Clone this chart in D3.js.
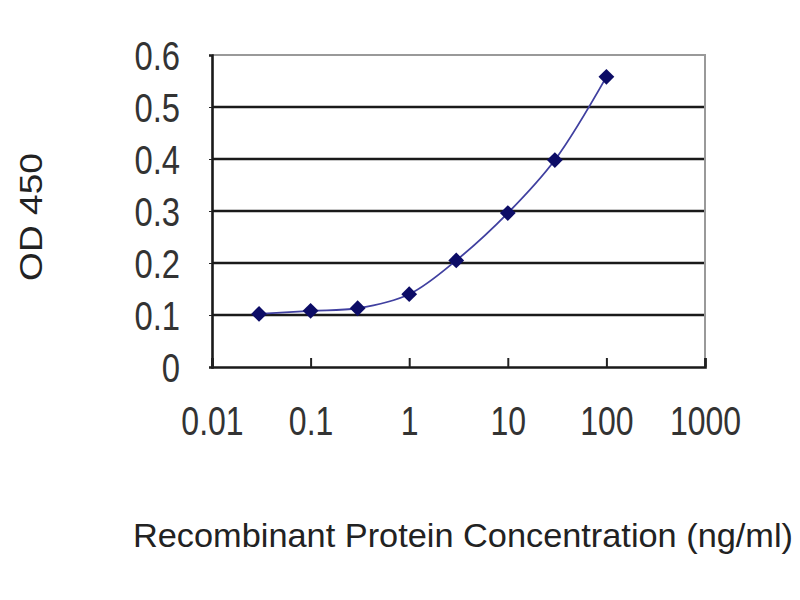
<!DOCTYPE html>
<html>
<head>
    <meta charset="utf-8">
    <title>OD 450</title>
    <style>
        body { margin: 0; background: #fff; }
        .tick text, .title { font-family: "Liberation Sans", Arial, sans-serif; }
        .title { fill: #222; }
    </style>
</head>
<body>
<script src="https://cdn.jsdelivr.net/npm/d3@7"></script>
<script>
    // concentrations (ng/ml) and OD readings
    var conc = [0.03, 0.1, 0.3, 1, 3, 10, 30, 100];
    var od = [0.102, 0.108, 0.113, 0.14, 0.205, 0.296, 0.398, 0.558];
    var xTicks = [0.01, 0.1, 1, 10, 100, 1000];
    var yTicks = [0, 0.1, 0.2, 0.3, 0.4, 0.5, 0.6];

    var margin = {top: 55, right: 95, bottom: 233, left: 212},
        width = 800 - margin.left - margin.right,
        height = 600 - margin.top - margin.bottom;

    var svg = d3.select("body").append("svg")
        .attr("width", 800)
        .attr("height", 600);

    var g = svg.append("g")
        .attr("transform", "translate(" + margin.left + "," + margin.top + ")");

    var x = d3.scaleLog().domain([0.01, 1000]).range([0, width]);
    var y = d3.scaleLinear().domain([0, 0.6]).range([height, 0]);

    // squeeze labels horizontally, the original font is condensed
    function squeeze(sel, k) {
        sel.each(function () {
            var w = this.getComputedTextLength();
            d3.select(this).attr("textLength", w * k).attr("lengthAdjust", "spacingAndGlyphs");
        });
    }

    // gridlines
    g.selectAll("line.grid")
        .data(yTicks.slice(1, 6))
        .enter().append("line")
        .attr("class", "grid")
        .attr("x1", 0).attr("x2", width)
        .attr("y1", function (d) { return y(d); })
        .attr("y2", function (d) { return y(d); })
        .attr("stroke", "#1a1a1a")
        .attr("stroke-width", 2.6);

    // top and right border (gray)
    g.append("path")
        .attr("d", "M0," + y(0.6) + "H" + width + "V" + height)
        .attr("fill", "none")
        .attr("stroke", "#999")
        .attr("stroke-width", 2);

    // y axis
    var yAxis = g.append("g")
        .call(d3.axisLeft(y).tickValues(yTicks).tickSize(3).tickPadding(29)
            .tickFormat(function (d) { return d === 0 ? "0" : d3.format(".1f")(d); }));
    yAxis.select(".domain").attr("stroke", "#1a1a1a").attr("stroke-width", 2.6);
    yAxis.selectAll(".tick line").attr("stroke", "#222");
    yAxis.selectAll(".tick text").attr("font-size", 40).attr("fill", "#333").attr("dy", "0.36em")
        .call(squeeze, 0.82);

    // x axis, ticks pointing inward
    var xAxis = g.append("g")
        .attr("transform", "translate(0," + height + ")")
        .call(d3.axisBottom(x).tickValues(xTicks).tickSize(-9).tickPadding(40)
            .tickFormat(function (d) { return String(d); }));
    xAxis.select(".domain").attr("stroke", "#1a1a1a").attr("stroke-width", 2.6);
    xAxis.selectAll(".tick line").attr("stroke", "#222").attr("stroke-width", 2);
    xAxis.selectAll(".tick text").attr("font-size", 40).attr("fill", "#333")
        .call(squeeze, 0.8);

    // curve
    var pts = conc.map(function (c, i) { return [c, od[i]]; });
    var line = d3.line()
        .x(function (d) { return x(d[0]); })
        .y(function (d) { return y(d[1]); })
        .curve(d3.curveCatmullRom);

    g.append("path")
        .datum(pts)
        .attr("d", line)
        .attr("fill", "none")
        .attr("stroke", "#4040a0")
        .attr("stroke-width", 1.8);

    // square markers turned 45 degrees
    g.selectAll("path.pt")
        .data(pts)
        .enter().append("path")
        .attr("class", "pt")
        .attr("d", d3.symbol().type(d3.symbolSquare).size(125))
        .attr("transform", function (d) { return "translate(" + x(d[0]) + "," + y(d[1]) + ") rotate(45)"; })
        .attr("fill", "#0c0c66");

    // axis titles
    svg.append("text")
        .attr("class", "title")
        .attr("transform", "translate(42,217) rotate(-90)")
        .attr("text-anchor", "middle")
        .attr("font-size", 31)
        .attr("textLength", 128)
        .attr("lengthAdjust", "spacingAndGlyphs")
        .text("OD 450");

    svg.append("text")
        .attr("class", "title")
        .attr("x", 133)
        .attr("y", 547)
        .attr("font-size", 34)
        .attr("textLength", 660)
        .attr("lengthAdjust", "spacingAndGlyphs")
        .text("Recombinant Protein Concentration (ng/ml)");
</script>
</body>
</html>
